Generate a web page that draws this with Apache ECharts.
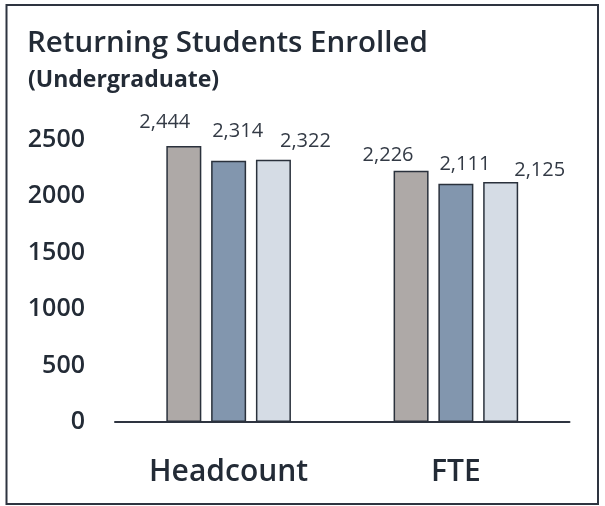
<!DOCTYPE html>
<html>
<head>
<meta charset="utf-8">
<script src="https://cdn.jsdelivr.net/npm/echarts@6/dist/echarts.min.js"></script>
<style>
html,body{margin:0;padding:0;background:#fff;}
#chart{width:605px;height:506px;}
</style>
</head>
<body>
<div id="chart"></div>
<script>
const categories = ['Headcount', 'FTE'];
const seriesNames = ['Year 1', 'Year 2', 'Year 3'];
const series1 = [2444, 2226];
const series2 = [2314, 2111];
const series3 = [2322, 2125];
const yTicks = [0, 500, 1000, 1500, 2000, 2500];

const colors = ['#aea9a7', '#8296ae', '#d5dce5'];
const labelOffsets = [
  [[-19, -14], [-23, -5]],
  [[9, -19], [9, -9]],
  [[32, -9], [39, -2]]
];
const FONT = '"Open Sans", "Noto Sans", sans-serif';

const chart = echarts.init(document.getElementById('chart'), null, {renderer: 'canvas'});
const allData = [series1, series2, series3];

const option = {
  animation: false,
  backgroundColor: '#fff',
  title: [
    {text: 'Returning Students Enrolled', left: 22, top: 24,
     textStyle: {fontFamily: FONT, fontSize: 29.5, fontWeight: 600, color: '#232b36'}},
    {text: '(Undergraduate)', left: 23, top: 64,
     textStyle: {fontFamily: FONT, fontSize: 23, fontWeight: 700, color: '#232b36'}}
  ],
  graphic: [{
    type: 'rect', shape: {x: 6.5, y: 5, width: 591.5, height: 499},
    style: {fill: 'none', stroke: '#2e3440', lineWidth: 2}, silent: true, z: 100
  }],
  grid: {left: 115, right: 35.5, top: 139.7, bottom: 84},
  xAxis: {
    type: 'category', data: categories,
    axisTick: {show: false},
    axisLine: {lineStyle: {color: '#2e3440', width: 2}},
    axisLabel: {fontFamily: FONT, fontSize: 30, fontWeight: 600, color: '#232b36', margin: 35}
  },
  yAxis: {
    type: 'value', min: yTicks[0], max: yTicks[yTicks.length - 1], interval: 500,
    splitLine: {show: false}, axisLine: {show: false}, axisTick: {show: false},
    axisLabel: {fontFamily: FONT, fontSize: 25, fontWeight: 600, color: '#232b36', margin: 30,
      formatter: v => String(v)}
  },
  series: allData.map((d, i) => ({
    name: seriesNames[i], type: 'bar', barWidth: 35, barGap: '28%',
    itemStyle: {color: colors[i], borderColor: '#2a313c', borderWidth: 1.5},
    data: d.map((v, j) => ({
      value: v,
      label: {offset: labelOffsets[i][j]}
    })),
    label: {
      show: true, position: 'top', distance: 0,
      fontFamily: FONT, fontSize: 20, lineHeight: 20, color: '#333a45',
      formatter: p => p.value.toLocaleString('en-US')
    }
  }))
};
chart.setOption(option);
</script>
</body>
</html>
